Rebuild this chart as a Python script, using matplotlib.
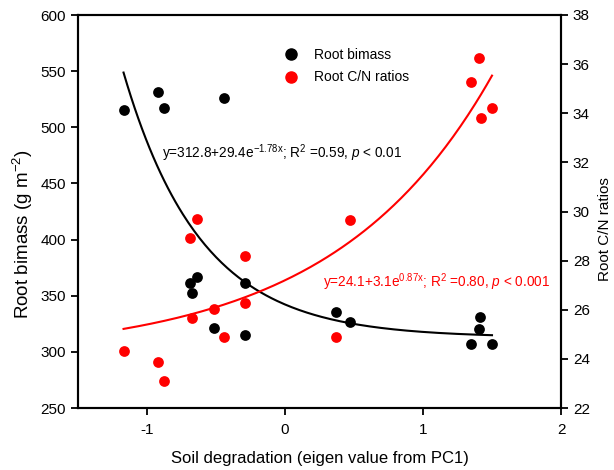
import numpy as np
import matplotlib
matplotlib.use("Agg")
import matplotlib.pyplot as plt
from matplotlib.lines import Line2D

plt.rcParams['font.family'] = ['Liberation Sans', 'DejaVu Sans']
plt.rcParams['mathtext.fontset'] = 'custom'
plt.rcParams['mathtext.rm'] = 'Liberation Sans'
plt.rcParams['mathtext.it'] = 'Liberation Sans:italic'
plt.rcParams['mathtext.bf'] = 'Liberation Sans:bold'
plt.rcParams['axes.unicode_minus'] = False

# Root biomass (left axis)
bio_x = [-1.164, -0.920, -0.877, -0.444, -0.688, -0.638, -0.676, -0.514,
         -0.292, -0.292, 0.367, 0.469, 1.416, 1.406, 1.350, 1.498]
bio_y = [515, 531, 517, 526, 361.6, 367, 352.4, 321,
         361.6, 314.7, 335.5, 326.3, 330.8, 320, 307.3, 307.3]

# Root C/N ratios (right axis)
cn_x = [-0.638, -0.688, 1.406, 1.350, 1.500, 1.420, 0.469, -0.292,
        -0.676, -0.514, -0.292, -0.442, -1.164, -0.918, -0.875, 0.367]
cn_y = [29.69, 28.91, 36.24, 35.26, 34.20, 33.79, 29.65, 28.19,
        25.68, 26.03, 26.29, 24.90, 24.31, 23.86, 23.10, 24.90]

# Fitted models (coefficients as printed on the chart)
bio_fit = (312.8, 29.4, -1.78)
cn_fit = (24.1, 3.1, 0.87)
fit_range = (-1.17, 1.5)

fig = plt.figure(figsize=(6.14, 4.70), dpi=100)
ax = fig.add_axes([78/614, 62/470, (561-78)/614, (408-15)/470])
ax2 = ax.twinx()

xf = np.linspace(fit_range[0], fit_range[1], 200)
a, b, c = bio_fit
ax.plot(xf, a + b*np.exp(c*xf), color='black', lw=1.5, zorder=2)
a, b, c = cn_fit
ax2.plot(xf, a + b*np.exp(c*xf), color='red', lw=1.5, zorder=2)

ax.scatter(bio_x, bio_y, s=60, color='black', zorder=3, linewidths=0)
ax2.scatter(cn_x, cn_y, s=60, color='red', zorder=3, linewidths=0)

ax.set_xlim(-1.5, 2)
ax.set_ylim(250, 600)
ax2.set_ylim(22, 38)
ax.set_xticks([-1, 0, 1, 2])
ax.set_xticklabels(['-1', '0', '1', '2'])
ax.set_yticks(np.arange(250, 601, 50))
ax2.set_yticks(np.arange(22, 39, 2))

for a_ in (ax, ax2):
    a_.tick_params(direction='out', length=5, width=1.3, labelsize=11)
    for s in a_.spines.values():
        s.set_linewidth(1.5)
ax.tick_params(axis='x', pad=6)

ax.set_xlabel('Soil degradation (eigen value from PC1)', fontsize=12, labelpad=10)
ax.set_ylabel(r'Root bimass (g m$^{\mathrm{-2}}$)', fontsize=13.5)
ax.yaxis.set_label_coords(-0.088, 0.443)
ax2.set_ylabel('Root C/N ratios', fontsize=11, rotation=90)
ax2.yaxis.set_label_coords(1.076, 0.455)

handles = [Line2D([], [], marker='o', color='black', ls='none', markersize=8),
           Line2D([], [], marker='o', color='red', ls='none', markersize=8)]
ax.legend(handles, ['Root bimass', 'Root C/N ratios'], frameon=False, fontsize=10,
          loc='upper left', bbox_to_anchor=(0.40, 0.93), handletextpad=0.7,
          labelspacing=0.6, borderaxespad=0)

ax.text(-0.891, 472.5,
        r'y=312.8+29.4e$^{\mathrm{-1.78x}}$; R$^{\mathrm{2}}$ =0.59, $p$ < 0.01',
        fontsize=9.8, color='black', va='baseline')
ax2.text(0.273, 26.93,
         r'y=24.1+3.1e$^{\mathrm{0.87x}}$; R$^{\mathrm{2}}$ =0.80, $p$ < 0.001',
         fontsize=9.8, color='red', va='baseline')

fig.savefig('out.png', dpi=100)
